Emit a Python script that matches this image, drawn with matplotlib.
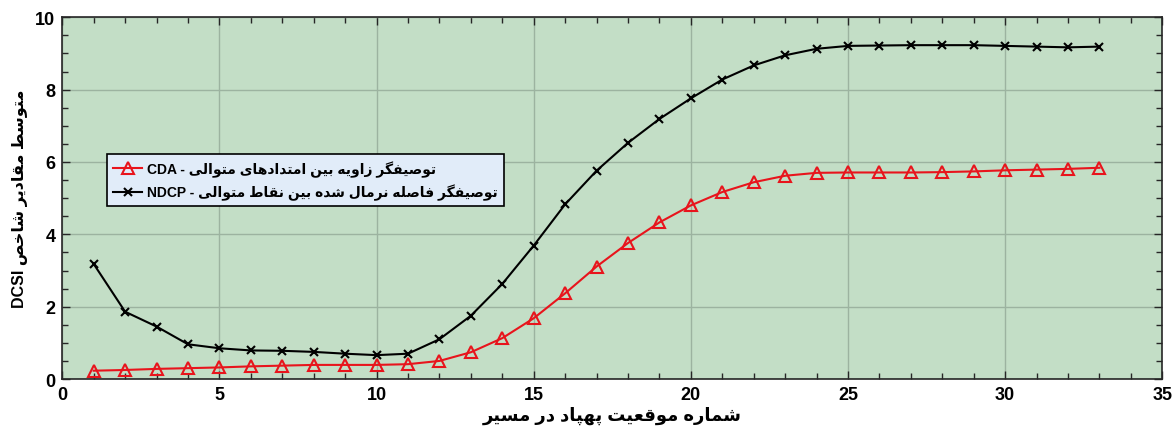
import unicodedata
import matplotlib
matplotlib.use("Agg")
import matplotlib.pyplot as plt
from matplotlib.ticker import MultipleLocator

plt.rcParams['font.family'] = ['Liberation Sans', 'DejaVu Sans']

# positions along the path
pos = list(range(1, 34))

# normalized distance between consecutive points (NDCP)
ndcp = [3.18, 1.86, 1.45, 0.96, 0.85, 0.79, 0.78, 0.75, 0.70, 0.66, 0.70,
        1.10, 1.75, 2.63, 3.69, 4.83, 5.76, 6.53, 7.19, 7.76, 8.28, 8.67,
        8.95, 9.13, 9.21, 9.22, 9.23, 9.23, 9.23, 9.21, 9.19, 9.17, 9.19]

# angle between consecutive directions (CDA)
cda = [0.23, 0.25, 0.28, 0.30, 0.32, 0.35, 0.37, 0.39, 0.39, 0.39, 0.41,
       0.50, 0.74, 1.13, 1.68, 2.37, 3.11, 3.76, 4.33, 4.80, 5.17, 5.44,
       5.62, 5.70, 5.71, 5.71, 5.71, 5.72, 5.74, 5.77, 5.79, 5.81, 5.84]

label_cda = 'توصیفگر زاویه بین امتدادهای متوالی - CDA'
label_ndcp = 'توصیفگر فاصله نرمال شده بین نقاط متوالی - NDCP'
xlabel = 'شماره موقعیت پهپاد در مسیر'
ylabel = 'متوسط مقادیر شاخص DCSI'

# contextual forms from the presentation-form blocks
FORMS = {}
for cp in list(range(0xFB50, 0xFE00)) + list(range(0xFE70, 0xFEFF)):
    dec = unicodedata.decomposition(chr(cp)).split()
    if len(dec) == 2 and dec[0] in ('<isolated>', '<final>', '<initial>', '<medial>'):
        FORMS.setdefault(chr(int(dec[1], 16)), {}).setdefault(dec[0][1:-1], chr(cp))


def shape(word):
    out = []
    for i, ch in enumerate(word):
        f = FORMS.get(ch)
        if not f:
            out.append(ch)
            continue
        prev = word[i - 1] if i > 0 else None
        nxt = word[i + 1] if i + 1 < len(word) else None
        jp = prev is not None and 'initial' in FORMS.get(prev, {})
        jn = nxt is not None and nxt in FORMS and 'initial' in f
        if jp and jn:
            form = 'medial'
        elif jp:
            form = 'final'
        elif jn:
            form = 'initial'
        else:
            form = 'isolated'
        out.append(f.get(form, f.get('isolated', ch)))
    return ''.join(out)


def rtl(text):
    words = []
    for w in reversed(text.split(' ')):
        if any('\u0600' <= c <= '\u06ff' for c in w):
            w = shape(w)[::-1]
        words.append(w)
    return ' '.join(words)


fig = plt.figure(figsize=(11.73, 4.35), dpi=100)
ax = fig.add_axes([0.0531, 0.1264, 0.9378, 0.8315])
ax.set_facecolor('#c3dec6')

ax.plot(pos, cda, color='#e8141c', lw=1.5, marker='^', ms=9,
        mfc='none', mec='#e8141c', mew=1.5, label=rtl(label_cda))
ax.plot(pos, ndcp, color='black', lw=1.5, marker='x', ms=6,
        mew=1.5, label=rtl(label_ndcp))

ax.set_xlim(0, 35)
ax.set_ylim(0, 10)
ax.xaxis.set_major_locator(MultipleLocator(5))
ax.xaxis.set_minor_locator(MultipleLocator(1))
ax.yaxis.set_major_locator(MultipleLocator(2))
ax.yaxis.set_minor_locator(MultipleLocator(0.5))
ax.tick_params(which='both', direction='in', top=True, right=True,
               labelsize=13, width=1, colors='#262626')
ax.tick_params(which='major', length=6, pad=5)
ax.tick_params(which='minor', length=4)
for t in ax.get_xticklabels() + ax.get_yticklabels():
    t.set_fontweight('bold')
    t.set_color('black')
ax.grid(True, which='major', color='#9cb3a0', lw=1)
ax.set_axisbelow(True)
for s in ax.spines.values():
    s.set_color('#262626')
    s.set_linewidth(1.2)

ax.set_xlabel(rtl(xlabel), fontsize=13, fontweight='bold', labelpad=2)
ax.set_ylabel(rtl(ylabel), fontsize=11.5, fontweight='bold', labelpad=5)

leg = ax.legend(loc='upper left', bbox_to_anchor=(0.0406, 0.622),
                prop={'size': 10, 'weight': 'bold'}, frameon=True,
                fancybox=False, handlelength=2.1, handletextpad=0.3,
                borderpad=0.45, labelspacing=0.5, borderaxespad=0)
leg.get_frame().set_facecolor('#e1ecf9')
leg.get_frame().set_edgecolor('black')
leg.get_frame().set_alpha(1)
leg.get_frame().set_linewidth(1.2)

fig.savefig('out.png', dpi=100)
